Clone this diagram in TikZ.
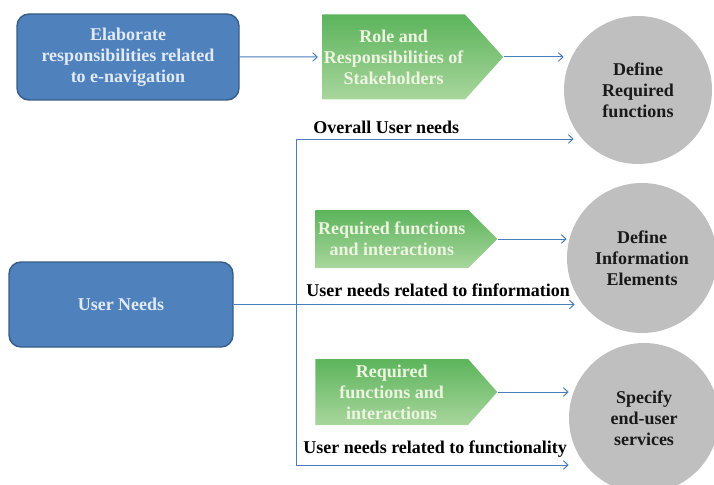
\documentclass[tikz,border=0pt]{standalone}
\usepackage{fontspec}
\setmainfont{Liberation Serif}
\usetikzlibrary{shapes.symbols,arrows.meta,calc}
\definecolor{boxblue}{RGB}{79,129,189}
\definecolor{boxedge}{RGB}{56,93,138}
\definecolor{boxtext}{RGB}{225,234,245}
\definecolor{greentop}{RGB}{92,180,92}
\definecolor{greenbot}{RGB}{168,214,156}
\definecolor{greentext}{RGB}{238,244,226}
\definecolor{discgray}{RGB}{191,191,191}
\definecolor{linkblue}{RGB}{74,126,187}
\newcommand{\labfont}{\bfseries\fontsize{13.5}{15.75}\selectfont}

\begin{document}
\begin{tikzpicture}[x=0.75pt,y=-0.75pt,
  bluebox/.style={draw=boxedge,line width=1.1pt,fill=boxblue,rounded corners=9pt,text=boxtext,font=\labfont,align=center,minimum width=166.5pt,minimum height=64.5pt},
  greenarrow/.style={signal,signal to=east,top color=greentop,bottom color=greenbot,draw=none,text=greentext,font=\labfont,align=center,anchor=west,inner xsep=1pt,inner ysep=0pt},
  disc/.style={circle,fill=discgray,text=black!90,font=\labfont,align=center,minimum size=112.5pt,inner sep=0pt},
  link/.style={draw=linkblue,line width=0.75pt},
  lbl/.style={font=\labfont,anchor=west,inner sep=0pt},
  >={Straight Barb[length=3.5pt,width=6.5pt]}]
\useasboundingbox (0,0) rectangle (714,485);
\node[bluebox] (elab) at (128,57) {Elaborate\\responsibilities related\\to e-navigation};
\node[bluebox,minimum width=168pt,minimum height=63.75pt] (needs) at (121,304.5) {User Needs};
\node[greenarrow,signal pointer angle=96,minimum width=135.75pt,minimum height=63.75pt] (role) at (322,57) {Role and\\Responsibilities of\\Stakeholders};
\node[greenarrow,signal pointer angle=90,minimum width=136.5pt,minimum height=43.5pt] (reqa) at (315,239) {Required functions\\and interactions};
\node[greenarrow,signal pointer angle=97,minimum width=136.5pt,minimum height=49.5pt] (reqb) at (315,392) {Required\\functions and\\interactions};
\node[disc,minimum size=111pt] (reqfn) at (638,90) {Define\\Required\\functions};
\node[disc] (infel) at (642,258) {Define\\Information\\Elements};
\node[disc] (svc) at (644,418) {Specify\\end-user\\services};
\coordinate (top) at (296,139);
\coordinate (bot) at (296,465);
\node[lbl] (ovl) at (313,127) {Overall User needs};
\node[lbl] (infl) at (306,290) {User needs related to finformation};
\node[lbl] (fnl) at (303,449) {User needs related to functionality};
\draw[link,->,shorten >=3pt] (elab) -- (role);
\draw[link,->] (role.east) -- (role.east -| reqfn.west);
\draw[link,->] (bot) -- (top) -- ($(top -| reqfn.west)+(10,0)$);
\draw[link,->] (bot) -- (bot -| svc.west);
\draw[link,->] (needs.east) -- ($(needs.east -| infel.west)+(8,0)$);
\draw[link,->] (reqa.east) -- (reqa.east -| infel.west);
\draw[link,->] (reqb.east) -- (reqb.east -| svc.west);
\end{tikzpicture}
\end{document}
